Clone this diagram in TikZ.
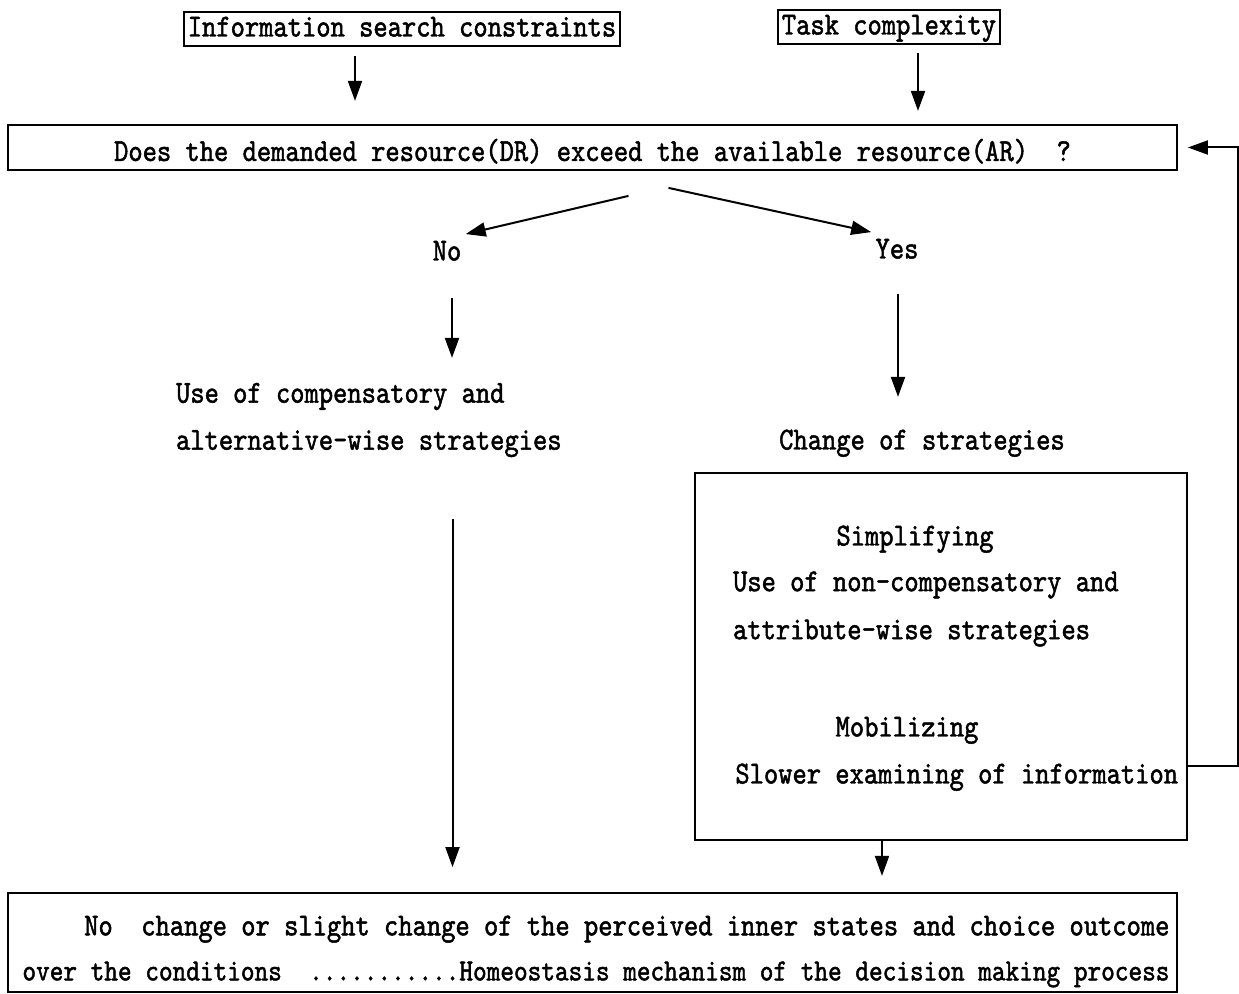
\documentclass[tikz,border=0pt]{standalone}
\usepackage{fontspec}
\newfontfamily\diagfont[FakeStretch=0.85,FakeBold=1.5]{lmmono10-regular.otf}
\usetikzlibrary{arrows.meta,positioning,calc}

\begin{document}
\begin{tikzpicture}[
    x=0.5pt, y=-0.5pt,
    fnt/.style={font=\diagfont\fontsize{16pt}{23.5pt}\selectfont},
    txt/.style={fnt, text height=11pt, text depth=3.5pt, inner sep=2pt},
    box/.style={txt, draw, line width=0.9pt, inner ysep=1.25pt},
    wide/.style={draw, line width=0.9pt, minimum width=584.5pt},
    arrow/.style={-{Triangle[length=10pt,width=7pt]}, line width=1pt}
]
\path[use as bounding box, fill=white] (0,0) rectangle (1239,994);

\node[box] (isc) at (402,29) {Information search constraints};
\node[box] (tc)  at (889,27) {Task complexity};
\node[wide, txt, text height=14pt, text depth=0.5pt, minimum height=22.5pt] (q) at (592.5,147.5)
    {Does the demanded resource(DR) exceed the available resource(AR)~~?};

\node[txt] (no)  at (447,253) {No};
\node[txt] (yes) at (897,251) {Yes};

\node[fnt, align=left, anchor=west] (comp) at (169,420)
    {Use of compensatory and\\alternative-wise strategies};
\node[txt] (chg) at (922,442) {Change of strategies};

\node[draw, line width=0.9pt, minimum width=246pt, minimum height=183.5pt] (strat) at (941,656.5) {};
\node[txt] (simp) at (915,538) {Simplifying};
\node[fnt, font=\diagfont\fontsize{16pt}{24pt}\selectfont, align=left, anchor=west] (ncs) at (726,609)
    {Use of non-compensatory and\\attribute-wise strategies};
\node[txt] (mob) at (907,729) {Mobilizing};
\node[txt, anchor=west] (slow) at (731,776) {Slower examining of information};

\node[wide, minimum height=49.5pt] (out) at (592.5,942.5) {};
\node[font=\diagfont\fontsize{16pt}{22.5pt}\selectfont, align=right, anchor=east, inner sep=2pt] (outtxt)
    at ($(out.east)+(-4,9)$)
    {No~~change or slight change of the perceived inner states and choice outcome\\
     {\fontsize{15.3pt}{22.5pt}\selectfont over the conditions~~...........Homeostasis mechanism of the decision making process}};

\draw[arrow] ($(isc.south)+(-47,9)$) -- ($(isc.south)+(-47,54)$);
\draw[arrow] ($(tc.south)+(29,8)$) -- ($(tc.south)+(29,66)$);
\draw[arrow] ($(q.south)+(36,25)$) -- (no.north east);
\draw[arrow] ($(q.south)+(76,17)$) -- (yes.north west);
\draw[arrow] ($(no.south)+(5,26)$) -- ($(no.south)+(5,86)$);
\draw[arrow] ($(yes.south)+(1,24)$) -- ($(yes.south)+(1,127)$);
\draw[arrow] ($(out.north)+(-140,-373)$) -- ($(out.north)+(-140,-25)$);
\draw[arrow] ($(strat.south)+(-59,0)$) -- ($(strat.south)+(-59,35)$);
\draw[arrow, shorten >=5pt] ($(strat.south east)+(0,-75)$) -- ++(50,0) |- (q.east);
\end{tikzpicture}
\end{document}
